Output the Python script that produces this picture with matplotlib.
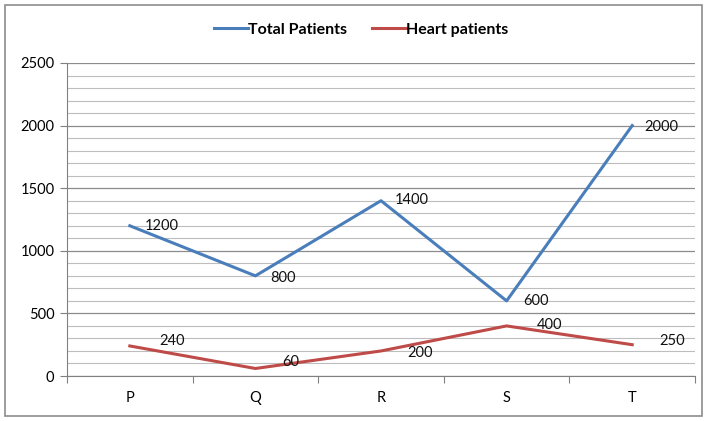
import matplotlib
matplotlib.use('Agg')
import matplotlib.pyplot as plt
from matplotlib.patches import Rectangle
from matplotlib.ticker import MultipleLocator

# Data
categories = ['P', 'Q', 'R', 'S', 'T']
total_patients = [1200, 800, 1400, 600, 2000]
heart_patients = [240, 60, 200, 400, 250]

# label offsets in pixels (dx, dy)
total_offsets = [(32, 0), (28, -2), (31, 1), (29, 0), (29, -1)]
heart_offsets = [(42, 5), (35, 6), (39, -2), (43, 1), (40, 4)]

plt.rcParams['font.family'] = ['Lato', 'DejaVu Sans']

fig = plt.figure(figsize=(7.05, 4.21), dpi=100)
ax = fig.add_axes([67 / 705, 1 - 376 / 421, 628 / 705, 313 / 421])

x = list(range(len(categories)))
ax.plot(x, total_patients, color='#4A7EBB', lw=2.2, label='Total Patients')
ax.plot(x, heart_patients, color='#BE4B48', lw=2.2, label='Heart patients')

for xi, v, (dx, dy) in zip(x, total_patients, total_offsets):
    ax.annotate(str(v), (xi, v), xytext=(dx, dy), textcoords='offset pixels',
                ha='center', va='center', fontsize=10.5, color='#111111')
for xi, v, (dx, dy) in zip(x, heart_patients, heart_offsets):
    ax.annotate(str(v), (xi, v), xytext=(dx, dy), textcoords='offset pixels',
                ha='center', va='center', fontsize=10.5, color='#111111')

ax.set_xlim(-0.5, len(categories) - 0.5)
ax.set_ylim(0, 2500)
ax.yaxis.set_major_locator(MultipleLocator(500))
ax.yaxis.set_minor_locator(MultipleLocator(100))
ax.grid(which='major', axis='y', color='#8c8c8c', lw=0.9)
ax.grid(which='minor', axis='y', color='#bdbdbd', lw=0.8)
ax.set_axisbelow(True)

# category ticks between labels, like Excel
ax.set_xticks([i + 0.5 for i in range(-1, len(categories))])
ax.set_xticklabels([])
ax.set_xticks(x, minor=True)
ax.set_xticklabels(categories, minor=True)
ax.tick_params(axis='x', which='major', length=5, color='#808080', direction='out')
ax.tick_params(axis='x', which='minor', length=0, pad=11, labelsize=10.5)
ax.tick_params(axis='y', which='major', length=5, color='#808080', labelsize=10.5, pad=4)
ax.tick_params(axis='y', which='minor', length=0)

for s in ['top', 'right']:
    ax.spines[s].set_visible(False)
for s in ['left', 'bottom']:
    ax.spines[s].set_color('#808080')

ax.legend(loc='upper center', bbox_to_anchor=(0.468, 1.175), ncol=2, frameon=False,
          handlelength=2.1, handletextpad=0.0, columnspacing=1.6,
          prop={'weight': 'bold', 'size': 11.5})

# outer chart border
fig.patches.append(Rectangle((5 / 705, 5 / 421), 697 / 705, 411 / 421,
                             transform=fig.transFigure, fill=False,
                             edgecolor='#8c8c8c', lw=1.2))

fig.savefig('out.png', dpi=100)
